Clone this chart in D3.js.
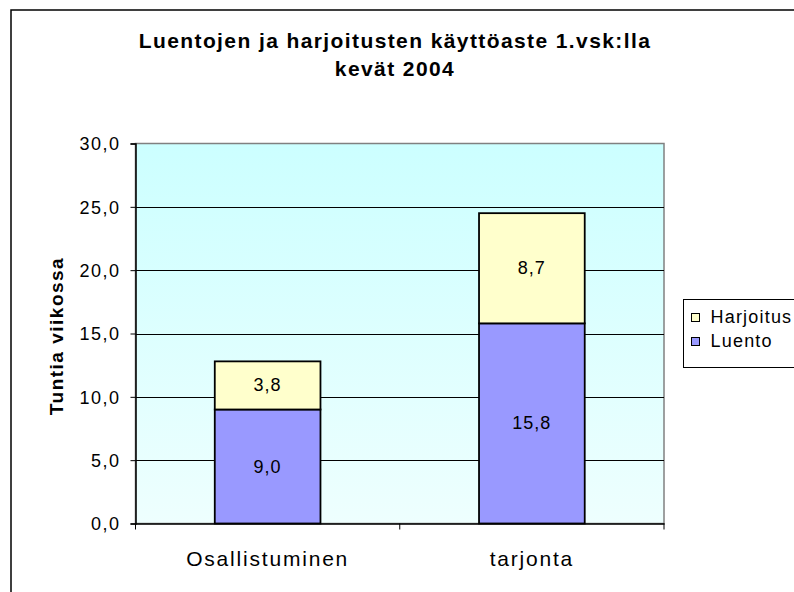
<!DOCTYPE html>
<html>
<head>
<meta charset="utf-8">
<script src="https://cdn.jsdelivr.net/npm/d3@7"></script>
<style>
  body { margin: 0; background: #fff; }
  text { font-family: "Liberation Sans", Arial, sans-serif; fill: #000; }
</style>
</head>
<body>
<svg id="chart" width="794" height="592"></svg>
<script>
 // Chart data
 const categories = ["Osallistuminen", "tarjonta"];
 const luento = [9.0, 15.8];
 const harjoitus = [3.8, 8.7];
 const seriesNames = ["Luento", "Harjoitus"];
 const seriesColors = ["#9999ff", "#ffffcc"];
 const yTicks = [0, 5, 10, 15, 20, 25, 30];

 const svg = d3.select("#chart");

 // Outer chart border (runs past the window edge)
 svg.append("rect")
     .attr("x", 11).attr("y", 10)
     .attr("width", 820).attr("height", 620)
     .attr("fill", "#fff")
     .attr("stroke", "#000")
     .attr("stroke-width", 1.5);

 // Plot area
 const plot = { left: 135.5, right: 664, top: 143.5, bottom: 523.5 };

 const x = d3.scaleBand()
     .domain(categories)
     .range([plot.left, plot.right])
     .paddingInner(0.6)
     .paddingOuter(0.3);

 const y = d3.scaleLinear()
     .domain([0, 30])
     .range([plot.bottom, plot.top]);

 // Background gradient
 const grad = svg.append("defs").append("linearGradient")
     .attr("id", "bg").attr("x1", 0).attr("y1", 0).attr("x2", 0).attr("y2", 1);
 grad.append("stop").attr("offset", "0%").attr("stop-color", "#ccffff");
 grad.append("stop").attr("offset", "100%").attr("stop-color", "#eefffe");

 svg.append("rect")
     .attr("x", plot.left).attr("y", plot.top)
     .attr("width", plot.right - plot.left)
     .attr("height", plot.bottom - plot.top)
     .attr("fill", "url(#bg)")
     .attr("stroke", "#808080")
     .attr("stroke-width", 1.5);

 // Gridlines
 svg.append("g")
     .selectAll("line")
     .data(yTicks.filter(d => d > 0 && d < 30))
     .join("line")
     .attr("x1", plot.left).attr("x2", plot.right)
     .attr("y1", d => Math.round(y(d)) + 0.5)
     .attr("y2", d => Math.round(y(d)) + 0.5)
     .attr("stroke", "#000")
     .attr("stroke-width", 1);

 // Stack the series
 const rows = categories.map((c, i) => ({ cat: c, Luento: luento[i], Harjoitus: harjoitus[i] }));
 const stacked = d3.stack().keys(seriesNames)(rows);

 const layer = svg.append("g")
     .selectAll("g")
     .data(stacked)
     .join("g")
     .attr("fill", (d, i) => seriesColors[i]);

 layer.selectAll("rect")
     .data(d => d)
     .join("rect")
     .attr("x", d => x(d.data.cat))
     .attr("y", d => y(d[1]))
     .attr("width", x.bandwidth())
     .attr("height", d => y(d[0]) - y(d[1]))
     .attr("stroke", "#000")
     .attr("stroke-width", 1.8);

 // Value labels
 layer.selectAll("text")
     .data(d => d)
     .join("text")
     .attr("x", d => x(d.data.cat) + x.bandwidth() / 2)
     .attr("y", d => (y(d[0]) + y(d[1])) / 2 + 6)
     .attr("text-anchor", "middle")
     .style("font-size", "18px")
     .style("letter-spacing", "1px")
     .style("fill", "#000")
     .text(d => d3.format(".1f")(d[1] - d[0]).replace(".", ","));

 // Y axis
 const yAxis = svg.append("g")
     .attr("transform", `translate(${plot.left},0)`)
     .call(d3.axisLeft(y).tickValues(yTicks).tickSize(5).tickPadding(10)
         .tickFormat(d => d3.format(".1f")(d).replace(".", ",")));
 yAxis.select(".domain").attr("stroke", "#000").attr("stroke-width", 1.5);
 yAxis.selectAll(".tick line").attr("stroke", "#000");
 yAxis.selectAll(".tick text")
     .attr("dy", "0.35em")
     .style("font-size", "18px")
     .style("letter-spacing", "1.5px")
     .style("font-family", "'Liberation Sans', Arial, sans-serif");

 // X axis
 const xAxis = svg.append("g")
     .attr("transform", `translate(0,${plot.bottom})`)
     .call(d3.axisBottom(x).tickSize(0).tickPadding(0));
 xAxis.select(".domain").attr("stroke", "#000").attr("stroke-width", 1.5);
 xAxis.selectAll(".tick text")
     .attr("dy", 0)
     .attr("y", 42)
     .style("font-size", "21px")
     .style("letter-spacing", "1.8px")
     .style("font-family", "'Liberation Sans', Arial, sans-serif");

 // Category separators below the axis
 const edges = [plot.left, ...categories.slice(1).map(c => x(c) - x.step() * x.paddingInner() / 2), plot.right];
 svg.append("g")
     .selectAll("line")
     .data(edges)
     .join("line")
     .attr("x1", d => d).attr("x2", d => d)
     .attr("y1", plot.bottom).attr("y2", plot.bottom + 6)
     .attr("stroke", "#000");

 // Title
 const title = svg.append("text")
     .attr("text-anchor", "middle")
     .style("font-size", "21px")
     .style("font-weight", "bold")
     .style("letter-spacing", "1.4px");
 title.append("tspan").attr("x", 395).attr("y", 48).text("Luentojen ja harjoitusten käyttöaste 1.vsk:lla");
 title.append("tspan").attr("x", 395).attr("y", 76).text("kevät 2004");

 // Y axis title
 svg.append("text")
     .attr("transform", "translate(63,336) rotate(-90)")
     .attr("text-anchor", "middle")
     .style("font-size", "19px")
     .style("font-weight", "bold")
     .style("letter-spacing", "1.5px")
     .text("Tuntia viikossa");

 // Legend
 const legend = svg.append("g").attr("transform", "translate(683.5,299.5)");
 legend.append("rect")
     .attr("width", 130).attr("height", 68)
     .attr("fill", "#fff")
     .attr("stroke", "#000");

 const legendItems = legend.selectAll("g")
     .data(seriesNames.slice().reverse())
     .join("g")
     .attr("transform", (d, i) => `translate(8,${14 + i * 24})`);

 legendItems.append("rect")
     .attr("width", 8).attr("height", 8)
     .attr("fill", d => seriesColors[seriesNames.indexOf(d)])
     .attr("stroke", "#000");

 legendItems.append("text")
     .attr("x", 19).attr("y", 9)
     .style("font-size", "18px")
     .style("letter-spacing", "1.2px")
     .text(d => d);
</script>
</body>
</html>
